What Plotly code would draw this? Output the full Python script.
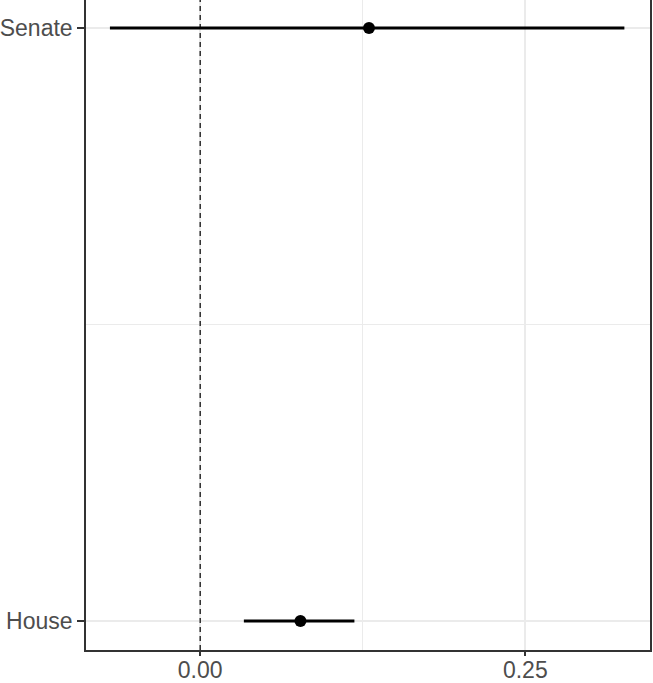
import plotly.graph_objects as go

# Coefficient estimates with confidence intervals, by chamber
chambers = ["House", "Senate"]
estimates = [0.0771, 0.1298]
ci_low = [0.0336, -0.0694]
ci_high = [0.1186, 0.3262]

ypos = list(range(1, len(chambers) + 1))
err_plus = [h - e for h, e in zip(ci_high, estimates)]
err_minus = [e - l for e, l in zip(estimates, ci_low)]

fig = go.Figure()
fig.add_trace(go.Scatter(
    x=estimates, y=ypos, mode="markers",
    marker=dict(color="black", size=12),
    error_x=dict(type="data", symmetric=False, array=err_plus,
                 arrayminus=err_minus, color="black", thickness=2.8, width=0),
    showlegend=False, hoverinfo="skip",
))

# Reference line at zero
fig.add_shape(type="line", xref="x", yref="paper", x0=0, x1=0, y0=0, y1=1,
              line=dict(color="black", width=1.2, dash="5px,4px"), layer="above")

grid = "#ebebeb"
tickfont = dict(family="Liberation Sans, Arial, sans-serif", size=23, color="#4d4d4d")

fig.update_layout(
    width=653, height=683,
    margin=dict(l=86, r=3, t=0, b=33),
    paper_bgcolor="white", plot_bgcolor="white",
    xaxis=dict(
        range=[-0.0878, 0.3459],
        tickvals=[0, 0.25], ticktext=["0.00", "0.25"],
        showgrid=True, gridcolor=grid, gridwidth=1.6,
        minor=dict(tickvals=[-0.125, 0.125], showgrid=True, gridcolor=grid,
                   gridwidth=1.2, ticklen=0),
        ticks="outside", ticklen=4, tickwidth=1.5, tickcolor="#333333",
        ticklabelstandoff=-5,
        showline=True, linecolor="#333333", linewidth=1.6,
        zeroline=False, tickfont=tickfont, automargin=False,
    ),
    yaxis=dict(
        range=[0.9511, 2.0472],
        tickvals=ypos, ticktext=chambers,
        showgrid=True, gridcolor=grid, gridwidth=1.6,
        minor=dict(tickvals=[1.5], showgrid=True, gridcolor=grid,
                   gridwidth=1.2, ticklen=0),
        ticks="outside", ticklen=7, tickwidth=1.5, tickcolor="#333333",
        showline=True, mirror=True, linecolor="#333333", linewidth=1.6,
        zeroline=False, tickfont=tickfont, automargin=False,
    ),
)

fig.write_html("out.html")
